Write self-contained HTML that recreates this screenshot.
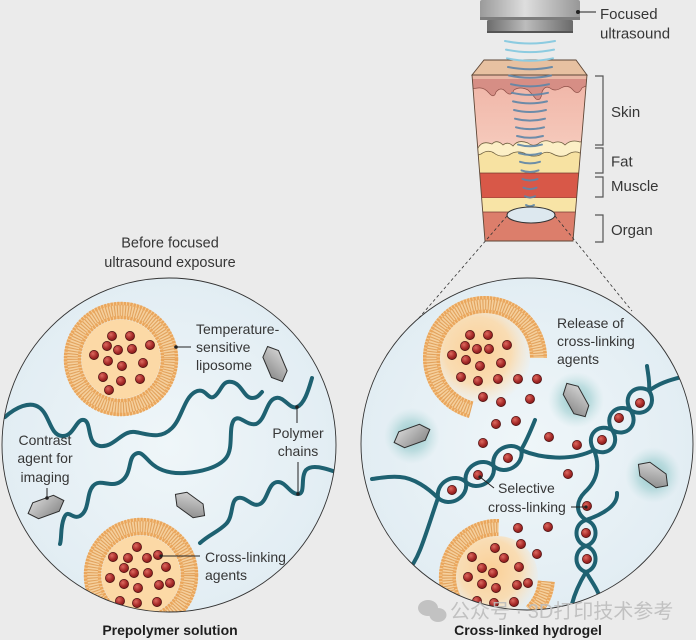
<!DOCTYPE html>
<html><head><meta charset="utf-8">
<style>
html,body{margin:0;padding:0;background:#ebebeb;}
svg{display:block;}
text{font-family:"Liberation Sans","Noto Sans CJK SC",sans-serif;fill:#363636;}
.d{fill:url(#dot);stroke:#4d1111;stroke-width:.7;}
.ch{fill:none;stroke:#1e6171;stroke-width:4;stroke-linecap:round;stroke-linejoin:round;}
.hx{fill:url(#hex);stroke:#2e2e2e;stroke-width:1;}
.pt{stroke:#222;stroke-width:1;fill:none;}
</style></head><body>
<svg width="696" height="640" viewBox="0 0 696 640" xmlns="http://www.w3.org/2000/svg">
<defs>
 <linearGradient id="tr1" x1="0" x2="1" y1="0" y2="0">
  <stop offset="0" stop-color="#9a9a9a"/><stop offset="0.45" stop-color="#dedede"/><stop offset="1" stop-color="#979797"/>
 </linearGradient>
 <linearGradient id="tr2" x1="0" x2="1" y1="0" y2="0">
  <stop offset="0" stop-color="#6c6c6c"/><stop offset="0.45" stop-color="#bcbcbc"/><stop offset="1" stop-color="#6a6a6a"/>
 </linearGradient>
 <linearGradient id="derm" x1="0" y1="0" x2="0" y2="1">
  <stop offset="0" stop-color="#efb2a4"/><stop offset="0.45" stop-color="#f6cbbd"/><stop offset="1" stop-color="#fbdfd2"/>
 </linearGradient>
 <radialGradient id="dot" cx="0.38" cy="0.35" r="0.7">
  <stop offset="0" stop-color="#dd6a60"/><stop offset="0.6" stop-color="#a92c2a"/><stop offset="1" stop-color="#7a1818"/>
 </radialGradient>
 <linearGradient id="hex" x1="0" y1="0" x2="1" y2="1">
  <stop offset="0" stop-color="#d8d8d8"/><stop offset="1" stop-color="#878787"/>
 </linearGradient>
 <radialGradient id="glow">
  <stop offset="0" stop-color="#4ea3a3" stop-opacity="0.6"/><stop offset="0.55" stop-color="#6fb8b8" stop-opacity="0.35"/><stop offset="1" stop-color="#9fd0d0" stop-opacity="0"/>
 </radialGradient>
 <radialGradient id="circ">
  <stop offset="0" stop-color="#eff6f9"/><stop offset="1" stop-color="#e2edf3"/>
 </radialGradient>
 <radialGradient id="core3" cx="0.42" cy="0.42" r="0.62">
  <stop offset="0" stop-color="#fbcf95" stop-opacity="1"/><stop offset="0.6" stop-color="#fcd9a8" stop-opacity="0.85"/><stop offset="1" stop-color="#fde4c2" stop-opacity="0"/>
 </radialGradient>
 <clipPath id="cL"><circle cx="169" cy="445" r="167"/></clipPath>
 <clipPath id="cR"><circle cx="527" cy="444" r="166"/></clipPath>
 <clipPath id="body"><polygon points="472,75 587,75 573,241 485,241"/></clipPath>
</defs>

<rect width="696" height="640" fill="#ebebeb"/>

<!-- ===== Transducer ===== -->
<rect x="480" y="0" width="100" height="20" rx="2" fill="url(#tr1)"/>
<rect x="480" y="17" width="100" height="3" fill="#7d7d7d"/>
<rect x="487" y="20" width="86" height="13" rx="1.5" fill="url(#tr2)"/>
<rect x="487" y="31" width="86" height="2" fill="#555"/>
<circle cx="578" cy="12" r="2" fill="#222"/>
<line x1="578" y1="12" x2="596" y2="12" class="pt"/>
<text x="600" y="19" font-size="15">Focused</text>
<text x="600" y="38.5" font-size="15">ultrasound</text>

<!-- ===== Tissue block ===== -->
<g clip-path="url(#body)">
 <rect x="465" y="70" width="130" height="180" fill="url(#derm)"/>
 <path d="M465,75 L595,75 L595,86 Q588,84 582,88 Q578,96 573,90 Q568,84 561,88 Q555,92 550,88 Q545,85 542,92 Q541,102 536,99 Q532,94 528,90 Q520,86 514,90 Q511,97 506,92 Q501,86 496,92 Q494,99 489,93 Q484,87 478,88 Q472,89 465,88 Z" fill="#d68e85" stroke="#8e4f47" stroke-width="0.7"/>
 <rect x="465" y="75" width="130" height="4" fill="#e9b8a5"/>
 <rect x="465" y="149" width="130" height="25" fill="#f7e2a2"/>
 <path d="M465,153 Q470,144 478,148 Q482,140 492,144 Q497,139 503,145 Q508,141 513,146 Q518,139 528,143 Q533,147 538,144 Q545,138 553,143 Q560,140 565,145 Q571,139 580,142 Q587,140 595,146 L595,152 Q588,157 580,153 Q574,150 567,155 Q560,158 553,154 Q546,150 540,155 Q532,158 524,153 Q516,150 509,155 Q500,158 494,153 Q488,149 481,154 Q474,157 465,155 Z" fill="#fcefc6" stroke="#6f6040" stroke-width="0.8"/>
 <rect x="465" y="173" width="130" height="25" fill="#d85848" stroke="#70372e" stroke-width="0.7"/>
 <rect x="465" y="198" width="130" height="14" fill="#f8e4a6"/>
 <rect x="465" y="212" width="130" height="35" fill="#dc7e6b" stroke="#70372e" stroke-width="0.7"/>
</g>
<polygon points="472,75 587,75 573,241 485,241" fill="none" stroke="#5d4636" stroke-width="0.9"/>
<polygon points="484,60 576,60 587,75 472,75" fill="#e7c1a1" stroke="#5d4636" stroke-width="0.9"/>

<!-- ultrasound waves -->
<g fill="none" stroke-width="2" stroke-linecap="round">
 <g stroke="#8ccbe0">
  <path d="M505,41 Q530,46 555,41"/>
  <path d="M506,49.6 Q530,54.6 554,49.6"/>
  <path d="M507,58.3 Q530,63.3 553,58.3"/>
 </g>
 <g stroke="#5f86a8" opacity="0.9">
  <path d="M508,67 Q530,71.5 552,67"/>
  <path d="M509,75.5 Q530,80 551,75.5"/>
  <path d="M511,84.2 Q530,88.5 549,84.2"/>
  <path d="M512,92.8 Q530,97 548,92.8"/>
  <path d="M513,101.4 Q530,105.4 547,101.4"/>
  <path d="M514,110 Q530,114 546,110"/>
  <path d="M515,118.7 Q530,122.5 545,118.7"/>
  <path d="M516,127.3 Q530,131 544,127.3"/>
  <path d="M517,136 Q530,139.5 543,136"/>
  <path d="M518,144.6 Q530,148 542,144.6"/>
  <path d="M519,153.2 Q530,156.5 541,153.2"/>
  <path d="M520,161.8 Q530,165 540,161.8"/>
  <path d="M521.5,170.4 Q530,173.5 538.5,170.4"/>
  <path d="M522.5,179.1 Q530,182 537.5,179.1"/>
  <path d="M523.5,187.7 Q530,190.5 536.5,187.7"/>
  <path d="M525,196.3 Q530,199 535,196.3"/>
  <path d="M526,205 Q530,207.5 534,205"/>
 </g>
</g>
<ellipse cx="531" cy="215" rx="24" ry="8" fill="#dde8ef" stroke="#333" stroke-width="1"/>

<!-- dashed projection lines -->
<g stroke="#333" stroke-width="0.8" stroke-dasharray="3 2.5" fill="none">
 <path d="M507,216 L418,319"/>
 <path d="M555,216 L632,311"/>
</g>

<!-- brackets -->
<g fill="none" stroke="#555" stroke-width="1.2">
 <path d="M595,76 H603 V145 H595"/>
 <path d="M595,148 H603 V173 H595"/>
 <path d="M595,177 H603 V197 H595"/>
 <path d="M595,215 H603 V242 H595"/>
</g>
<text x="611" y="117" font-size="15">Skin</text>
<text x="611" y="166.5" font-size="15">Fat</text>
<text x="611" y="191" font-size="15">Muscle</text>
<text x="611" y="235" font-size="15">Organ</text>

<!-- header left -->
<text x="170" y="247.5" font-size="14.5" text-anchor="middle">Before focused</text>
<text x="170" y="267" font-size="14.5" text-anchor="middle">ultrasound exposure</text>

<!-- ===== LEFT CIRCLE ===== -->
<circle cx="169" cy="445" r="167" fill="url(#circ)"/>
<g clip-path="url(#cL)">
 <!-- chains -->
 <path class="ch" d="M5,417 C15,408 30,400 40,408 C50,416 50,435 62,436 C74,437 76,418 84,420 C92,422 86,444 100,446 C114,448 122,430 135,432 C148,434 160,440 172,428 C182,418 184,398 195,392 C206,386 208,402 215,396 C222,390 222,380 232,382 C242,384 244,398 252,398 C258,398 260,394 262,392"/>
 <path class="ch" d="M312,378 C308,392 304,404 297,407 C290,410 284,396 276,398 C266,400 266,420 256,424 C246,426 240,414 234,420 C228,428 234,448 226,458 C218,468 200,472 185,473 C170,474 158,470 150,462 C143,455 140,450 134,455 C128,460 132,475 120,482 C110,488 100,478 93,486 C86,494 90,510 80,516 C72,520 68,508 64,518 C60,528 62,538 60,544"/>
 <path class="ch" d="M336,472 C324,468 312,464 306,470 C300,478 306,494 298,494 C290,494 286,482 278,482 C268,482 268,500 260,504 C252,508 246,496 238,498 C230,500 234,516 226,524 C218,532 210,534 200,543"/>

 <!-- liposome 1 -->
 <g transform="translate(121,359)">
  <circle r="48.5" fill="none" stroke="#f5cf9c" stroke-width="17"/>
  <circle r="48.5" fill="none" stroke="#e2a35e" stroke-width="11" stroke-dasharray="1.1 1.6"/>
  <circle r="55.5" fill="none" stroke="#eaa65c" stroke-width="3.5" stroke-dasharray="2.4 0.9"/>
  <circle r="41.5" fill="none" stroke="#eaa65c" stroke-width="3.5" stroke-dasharray="2.4 0.9"/>
  <circle r="39.5" fill="#fcd9a6"/>
 </g>
 <!-- liposome 2 -->
 <g transform="translate(141,575)">
  <circle r="48.5" fill="none" stroke="#f5cf9c" stroke-width="17"/>
  <circle r="48.5" fill="none" stroke="#e2a35e" stroke-width="11" stroke-dasharray="1.1 1.6"/>
  <circle r="55.5" fill="none" stroke="#eaa65c" stroke-width="3.5" stroke-dasharray="2.4 0.9"/>
  <circle r="41.5" fill="none" stroke="#eaa65c" stroke-width="3.5" stroke-dasharray="2.4 0.9"/>
  <circle r="39.5" fill="#fcd9a6"/>
 </g>
 <g class="d">
  <circle cx="112" cy="336" r="4.6"/><circle cx="130" cy="336" r="4.6"/><circle cx="107" cy="346" r="4.6"/>
  <circle cx="118" cy="350" r="4.6"/><circle cx="132" cy="349" r="4.6"/><circle cx="150" cy="345" r="4.6"/>
  <circle cx="94" cy="355" r="4.6"/><circle cx="108" cy="361" r="4.6"/><circle cx="122" cy="366" r="4.6"/>
  <circle cx="143" cy="363" r="4.6"/><circle cx="103" cy="377" r="4.6"/><circle cx="121" cy="381" r="4.6"/>
  <circle cx="140" cy="379" r="4.6"/><circle cx="109" cy="390" r="4.6"/>

  <circle cx="137" cy="547" r="4.6"/><circle cx="113" cy="557" r="4.6"/><circle cx="128" cy="558" r="4.6"/>
  <circle cx="147" cy="558" r="4.6"/><circle cx="158" cy="555" r="4.6"/><circle cx="124" cy="568" r="4.6"/>
  <circle cx="134" cy="573" r="4.6"/><circle cx="148" cy="573" r="4.6"/><circle cx="166" cy="567" r="4.6"/>
  <circle cx="110" cy="578" r="4.6"/><circle cx="124" cy="584" r="4.6"/><circle cx="138" cy="588" r="4.6"/>
  <circle cx="159" cy="585" r="4.6"/><circle cx="170" cy="583" r="4.6"/><circle cx="120" cy="601" r="4.6"/>
  <circle cx="137" cy="603" r="4.6"/><circle cx="157" cy="602" r="4.6"/>
 </g>
 <!-- hexagons -->
 <path class="hx" transform="translate(275,364) rotate(67)" d="M-19,0 L-11,-8.5 L11,-8.5 L19,0 L11,8.5 L-11,8.5 Z"/>
 <path class="hx" transform="translate(46,507) rotate(-20)" d="M-19,0 L-11,-8.5 L11,-8.5 L19,0 L11,8.5 L-11,8.5 Z"/>
 <path class="hx" transform="translate(190,505) rotate(36)" d="M-18,0 L-10,-8.5 L10,-8.5 L18,0 L10,8.5 L-10,8.5 Z"/>
</g>
<circle cx="169" cy="445" r="167" fill="none" stroke="#333" stroke-width="0.9"/>

<!-- left labels + pointers -->
<circle cx="176" cy="347" r="1.8" fill="#222"/><line x1="176" y1="347" x2="191" y2="347" class="pt"/>
<text x="196" y="334" font-size="14">Temperature-</text>
<text x="196" y="352" font-size="14">sensitive</text>
<text x="196" y="370" font-size="14">liposome</text>

<text x="45" y="445" font-size="14" text-anchor="middle">Contrast</text>
<text x="45" y="463" font-size="14" text-anchor="middle">agent for</text>
<text x="45" y="482" font-size="14" text-anchor="middle">imaging</text>
<line x1="47" y1="488" x2="47" y2="498" class="pt"/><circle cx="47" cy="498" r="1.8" fill="#222"/>

<circle cx="297" cy="407" r="1.8" fill="#222"/><line x1="297" y1="407" x2="297" y2="423" class="pt"/>
<text x="298" y="438" font-size="14" text-anchor="middle">Polymer</text>
<text x="298" y="456" font-size="14" text-anchor="middle">chains</text>
<line x1="298" y1="462" x2="298" y2="494" class="pt"/><circle cx="298" cy="494" r="1.8" fill="#222"/>

<circle cx="161" cy="556" r="1.6" fill="#222"/><line x1="161" y1="556" x2="200" y2="556" class="pt"/>
<text x="205" y="562" font-size="14">Cross-linking</text>
<text x="205" y="580" font-size="14">agents</text>

<!-- ===== RIGHT CIRCLE ===== -->
<circle cx="527" cy="444" r="166" fill="url(#circ)"/>
<g clip-path="url(#cR)">
 <!-- glows -->
 <circle cx="576" cy="400" r="28" fill="url(#glow)"/>
 <circle cx="412" cy="436" r="28" fill="url(#glow)"/>
 <circle cx="653" cy="475" r="28" fill="url(#glow)"/>

 <!-- liposome 3 (opened) -->
 <circle cx="485" cy="358" r="45" fill="url(#core3)"/>
 <g fill="none">
  <path d="M471.1,409.7 A53.5,53.5 0 1 1 538.5,358" stroke="#f5cf9c" stroke-width="17"/>
  <path d="M471.1,409.7 A53.5,53.5 0 1 1 538.5,358" stroke="#e2a35e" stroke-width="11" stroke-dasharray="1.1 1.6"/>
  <path d="M469.4,416.2 A60.25,60.25 0 1 1 545.25,358" stroke="#eaa65c" stroke-width="3.5" stroke-dasharray="2.4 0.9"/>
  <path d="M472.9,403.2 A46.75,46.75 0 1 1 531.75,358" stroke="#eaa65c" stroke-width="3.5" stroke-dasharray="2.4 0.9"/>
 </g>
 <!-- liposome 4 (opened) -->
 <circle cx="497" cy="577" r="41" fill="url(#core3)"/>
 <g fill="none">
  <path d="M509.8,624.8 A49.5,49.5 0 1 1 498.7,527.5" stroke="#f5cf9c" stroke-width="17"/>
  <path d="M509.8,624.8 A49.5,49.5 0 1 1 498.7,527.5" stroke="#e2a35e" stroke-width="11" stroke-dasharray="1.1 1.6"/>
  <path d="M511.6,631.3 A56.25,56.25 0 1 1 499,520.8" stroke="#eaa65c" stroke-width="3.5" stroke-dasharray="2.4 0.9"/>
  <path d="M508.1,618.3 A42.75,42.75 0 1 1 498.5,534.3" stroke="#eaa65c" stroke-width="3.5" stroke-dasharray="2.4 0.9"/>
  <path d="M546.3,581.3 A49.5,49.5 0 0 1 532,612" stroke="#f5cf9c" stroke-width="17"/>
  <path d="M546.3,581.3 A49.5,49.5 0 0 1 532,612" stroke="#e2a35e" stroke-width="11" stroke-dasharray="1.1 1.6"/>
  <path d="M553,581.9 A56.25,56.25 0 0 1 536.8,616.8" stroke="#eaa65c" stroke-width="3.5" stroke-dasharray="2.4 0.9"/>
  <path d="M539.6,580.7 A42.75,42.75 0 0 1 527.2,607.2" stroke="#eaa65c" stroke-width="3.5" stroke-dasharray="2.4 0.9"/>
 </g>

 <!-- hexagons -->
 <path class="hx" transform="translate(576,400) rotate(61)" d="M-19,0 L-11,-8.5 L11,-8.5 L19,0 L11,8.5 L-11,8.5 Z"/>
 <path class="hx" transform="translate(412,436) rotate(-20)" d="M-19,0 L-11,-8.5 L11,-8.5 L19,0 L11,8.5 L-11,8.5 Z"/>
 <path class="hx" transform="translate(653,475) rotate(36)" d="M-18,0 L-10,-8.5 L10,-8.5 L18,0 L10,8.5 L-10,8.5 Z"/>

 <!-- helix 1 -->
 <g transform="translate(452,490) rotate(-30)">
  <path class="ch" d="M-16,0 C-11.2,-14.7 11.2,-14.7 16,0 C20.8,14.7 43.2,14.7 48,0 C52.8,-14.7 75.2,-14.7 80,0"/>
  <path class="ch" d="M-16,0 C-11.2,14.7 11.2,14.7 16,0 C20.8,-14.7 43.2,-14.7 48,0 C52.8,14.7 75.2,14.7 80,0"/>
 </g>
 <path class="ch" d="M438,498 C428,488 414,478 400,477 C388,476 380,478 372,479"/>
 <path class="ch" d="M438,498 C432,515 426,535 420,550 C416,560 412,566 406,574"/>
 <path class="ch" d="M521,450 C527,440 531,430 535,420"/>
 <path class="ch" d="M521,450 C540,458 570,462 594,450"/>

 <!-- helix 2 -->
 <g transform="translate(603,440) rotate(-47)">
  <path class="ch" d="M-13.5,0 C-9.45,-16 9.45,-16 13.5,0 C17.55,16 36.45,16 40.5,0 C44.55,-16 63.45,-16 67.5,0"/>
  <path class="ch" d="M-13.5,0 C-9.45,16 9.45,16 13.5,0 C17.55,-16 36.45,-16 40.5,0 C44.55,16 63.45,16 67.5,0"/>
 </g>
 <path class="ch" d="M649,390.7 C650,382 648,374 647,366"/>
 <path class="ch" d="M649,390.7 C658,384 668,380 686,376"/>

 <!-- helix 3 -->
 <path class="ch" d="M594,450 C600,465 598,480 585,492 C577,500 574,512 586,520"/>
 <path class="ch" d="M617,493 C618,505 604,514 586,520"/>
 <g transform="translate(586,533) rotate(90)">
  <path class="ch" d="M-13,0 C-9.1,-12.7 9.1,-12.7 13,0 C16.9,12.7 35.1,12.7 39,0"/>
  <path class="ch" d="M-13,0 C-9.1,12.7 9.1,12.7 13,0 C16.9,-12.7 35.1,-12.7 39,0"/>
 </g>
 <path class="ch" d="M586,572 C580,582 575,592 572,604"/>
 <path class="ch" d="M586,572 C592,582 598,590 602,602"/>

 <!-- dots -->
 <g class="d">
  <circle cx="470" cy="335" r="4.6"/><circle cx="488" cy="335" r="4.6"/><circle cx="465" cy="346" r="4.6"/>
  <circle cx="477" cy="349" r="4.6"/><circle cx="489" cy="349" r="4.6"/><circle cx="507" cy="345" r="4.6"/>
  <circle cx="452" cy="355" r="4.6"/><circle cx="466" cy="360" r="4.6"/><circle cx="480" cy="366" r="4.6"/>
  <circle cx="501" cy="363" r="4.6"/><circle cx="461" cy="377" r="4.6"/><circle cx="478" cy="381" r="4.6"/>
  <circle cx="498" cy="379" r="4.6"/><circle cx="518" cy="379" r="4.6"/><circle cx="537" cy="379" r="4.6"/>
  <circle cx="483" cy="397" r="4.6"/><circle cx="501" cy="402" r="4.6"/><circle cx="530" cy="399" r="4.6"/>
  <circle cx="496" cy="424" r="4.6"/><circle cx="516" cy="421" r="4.6"/><circle cx="549" cy="437" r="4.6"/>
  <circle cx="483" cy="443" r="4.6"/><circle cx="577" cy="445" r="4.6"/><circle cx="568" cy="474" r="4.6"/>
  <circle cx="508" cy="458" r="4.6"/><circle cx="478" cy="475" r="4.6"/><circle cx="452" cy="490" r="4.6"/>
  <circle cx="640" cy="403" r="4.6"/><circle cx="619" cy="418" r="4.6"/><circle cx="602" cy="440" r="4.6"/>
  <circle cx="587" cy="506" r="4.6"/><circle cx="586" cy="533" r="4.6"/><circle cx="587" cy="559" r="4.6"/>

  <circle cx="518" cy="528" r="4.6"/><circle cx="548" cy="527" r="4.6"/><circle cx="521" cy="544" r="4.6"/>
  <circle cx="495" cy="548" r="4.6"/><circle cx="537" cy="554" r="4.6"/><circle cx="472" cy="557" r="4.6"/>
  <circle cx="504" cy="558" r="4.6"/><circle cx="482" cy="568" r="4.6"/><circle cx="493" cy="573" r="4.6"/>
  <circle cx="519" cy="567" r="4.6"/><circle cx="468" cy="577" r="4.6"/><circle cx="482" cy="584" r="4.6"/>
  <circle cx="496" cy="588" r="4.6"/><circle cx="517" cy="585" r="4.6"/><circle cx="528" cy="583" r="4.6"/>
  <circle cx="477" cy="601" r="4.6"/><circle cx="494" cy="603" r="4.6"/><circle cx="514" cy="602" r="4.6"/>
 </g>
</g>
<circle cx="527" cy="444" r="166" fill="none" stroke="#333" stroke-width="0.9"/>

<!-- right labels -->
<text x="557" y="328" font-size="14">Release of</text>
<text x="557" y="346" font-size="14">cross-linking</text>
<text x="557" y="364" font-size="14">agents</text>

<circle cx="480" cy="477" r="1.6" fill="#222"/><line x1="480" y1="477" x2="494" y2="488" class="pt"/>
<text x="498" y="493" font-size="14">Selective</text>
<text x="488" y="512" font-size="14">cross-linking</text>
<line x1="571" y1="507" x2="586" y2="507" class="pt"/><circle cx="586" cy="507" r="1.6" fill="#222"/>

<!-- watermark -->
<g fill="#c2c2c2">
 <ellipse cx="428" cy="608" rx="10" ry="8"/>
 <ellipse cx="438" cy="615" rx="8.5" ry="7"/>
</g>
<text x="450" y="618" font-size="20" style="fill:#bdbdbd;opacity:0.9">公众号 · 3D打印技术参考</text>

<!-- bottom titles -->
<text x="170" y="635" font-size="14" font-weight="bold" text-anchor="middle" style="fill:#1e1e1e">Prepolymer solution</text>
<text x="528" y="635" font-size="14" font-weight="bold" text-anchor="middle" style="fill:#1e1e1e">Cross-linked hydrogel</text>
</svg>
</body></html>
